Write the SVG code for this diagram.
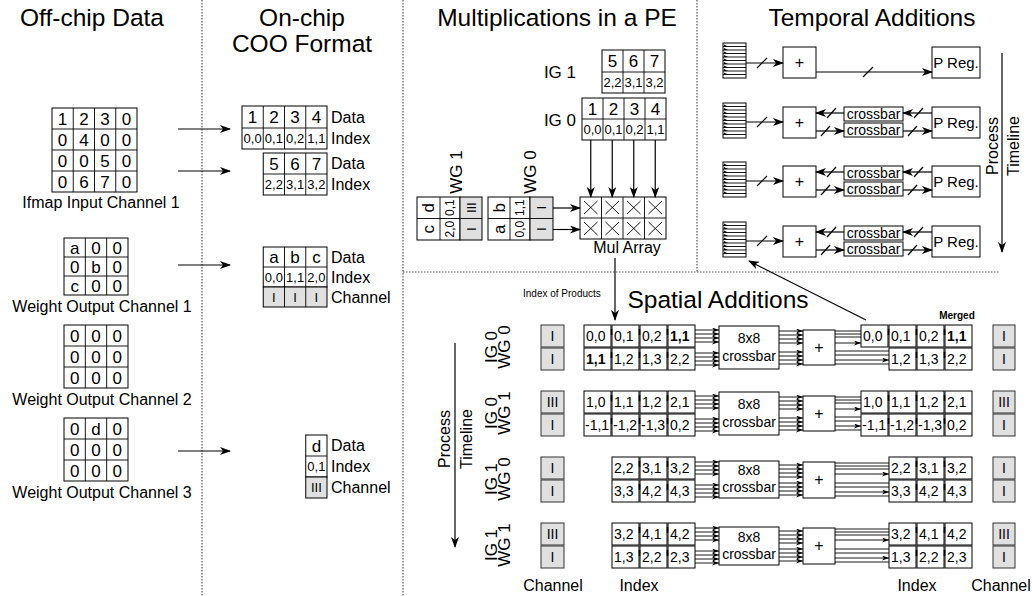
<svg xmlns="http://www.w3.org/2000/svg" width="1032" height="596" viewBox="0 0 1032 596">
<defs>
<style>
text{font-family:"Liberation Sans",Arial,sans-serif;fill:#000}
.title{font-size:24.5px;text-anchor:middle}
.lbl{font-size:16px}
.d{font-size:17px;text-anchor:middle}
.ix{font-size:13px;text-anchor:middle}
.sx{font-size:14px}
.b{font-weight:bold}
.m{text-anchor:middle}
.c{fill:#fff;stroke:#000;stroke-width:1}
.g{fill:#e0e0e0;stroke:#000;stroke-width:1}
.gs{fill:#e0e0e0;stroke:#333;stroke-width:1}
.ln{fill:none;stroke:#000;stroke-width:1.2}
.th{fill:none;stroke:#000;stroke-width:0.9}
.dot{fill:none;stroke:#555;stroke-width:1.2;stroke-dasharray:1.5 1.5}
</style>
<marker id="ah" markerWidth="11" markerHeight="8" refX="10" refY="4" orient="auto" markerUnits="userSpaceOnUse"><path d="M0,0 L11,4 L0,8 L3,4 z"/></marker>
<marker id="as" markerWidth="7" markerHeight="5" refX="7" refY="2.5" orient="auto" markerUnits="userSpaceOnUse"><path d="M0,0 L7,2.5 L0,5 L2,2.5 z"/></marker>
<g id="stack">
<rect x="0" y="0" width="23" height="35" fill="#fff" stroke="#000" stroke-width="1"/>
<path d="M0,3.5H23M0,7H23M0,10.5H23M0,14H23M0,17.5H23M0,21H23M0,24.5H23M0,28H23M0,31.5H23" stroke="#000" stroke-width="0.9"/>
<path d="M1,1.5L5,3.5L1,3.5zM1,5L5,7L1,7zM1,8.5L5,10.5L1,10.5zM1,12L5,14L1,14zM1,15.5L5,17.5L1,17.5zM1,19L5,21L1,21zM1,22.5L5,24.5L1,24.5zM1,26L5,28L1,28zM1,29.5L5,31.5L1,31.5z" fill="#000"/>
</g>
</defs>
<rect width="1032" height="596" fill="#fff"/>

<g id="dividers">
<line class="dot" x1="202" y1="0" x2="202" y2="596"/>
<line class="dot" x1="403" y1="0" x2="403" y2="596"/>
<line class="dot" x1="697" y1="0" x2="697" y2="272"/>
<line class="dot" x1="403" y1="272" x2="1000" y2="272"/>
</g>

<g id="titles">
<text class="title" x="92" y="26">Off-chip Data</text>
<text class="title" x="302" y="26">On-chip</text>
<text class="title" x="302" y="52">COO Format</text>
<text class="title" x="557" y="26">Multiplications in a PE</text>
<text class="title" x="872" y="26">Temporal Additions</text>
<text class="title" x="718" y="308">Spatial Additions</text>
</g>

<g id="ifmap">
<rect class="c" x="52" y="108" width="85" height="84"/>
<path class="th" d="M73.25,108V192M94.5,108V192M115.75,108V192M52,129H137M52,150H137M52,171H137"/>
<text class="d" x="62.6" y="124.5">1</text><text class="d" x="83.9" y="124.5">2</text><text class="d" x="105.1" y="124.5">3</text><text class="d" x="126.4" y="124.5">0</text>
<text class="d" x="62.6" y="145.5">0</text><text class="d" x="83.9" y="145.5">4</text><text class="d" x="105.1" y="145.5">0</text><text class="d" x="126.4" y="145.5">0</text>
<text class="d" x="62.6" y="166.5">0</text><text class="d" x="83.9" y="166.5">0</text><text class="d" x="105.1" y="166.5">5</text><text class="d" x="126.4" y="166.5">0</text>
<text class="d" x="62.6" y="187.5">0</text><text class="d" x="83.9" y="187.5">6</text><text class="d" x="105.1" y="187.5">7</text><text class="d" x="126.4" y="187.5">0</text>
<text class="lbl m" x="101" y="208">Ifmap Input Channel 1</text>
</g>
<g id="weight1">
<rect class="c" x="64" y="238" width="64" height="57"/>
<path class="th" d="M85.33,238V295M106.67,238V295M64,257H128M64,276H128"/>
<text class="d" x="74.7" y="253.5">a</text><text class="d" x="96" y="253.5">0</text><text class="d" x="117.3" y="253.5">0</text>
<text class="d" x="74.7" y="272.5">0</text><text class="d" x="96" y="272.5">b</text><text class="d" x="117.3" y="272.5">0</text>
<text class="d" x="74.7" y="291.5">c</text><text class="d" x="96" y="291.5">0</text><text class="d" x="117.3" y="291.5">0</text>
<text class="lbl m" x="102" y="312">Weight Output Channel 1</text>
</g>
<g id="weight2">
<rect class="c" x="64" y="325" width="64" height="63"/>
<path class="th" d="M85.33,325V388M106.67,325V388M64,346H128M64,367H128"/>
<text class="d" x="74.7" y="341.5">0</text><text class="d" x="96" y="341.5">0</text><text class="d" x="117.3" y="341.5">0</text>
<text class="d" x="74.7" y="362.5">0</text><text class="d" x="96" y="362.5">0</text><text class="d" x="117.3" y="362.5">0</text>
<text class="d" x="74.7" y="383.5">0</text><text class="d" x="96" y="383.5">0</text><text class="d" x="117.3" y="383.5">0</text>
<text class="lbl m" x="102" y="405">Weight Output Channel 2</text>
</g>
<g id="weight3">
<rect class="c" x="64" y="418" width="64" height="63"/>
<path class="th" d="M85.33,418V481M106.67,418V481M64,439H128M64,460H128"/>
<text class="d" x="74.7" y="434.5">0</text><text class="d" x="96" y="434.5">d</text><text class="d" x="117.3" y="434.5">0</text>
<text class="d" x="74.7" y="455.5">0</text><text class="d" x="96" y="455.5">0</text><text class="d" x="117.3" y="455.5">0</text>
<text class="d" x="74.7" y="476.5">0</text><text class="d" x="96" y="476.5">0</text><text class="d" x="117.3" y="476.5">0</text>
<text class="lbl m" x="102" y="498">Weight Output Channel 3</text>
</g>

<g id="coo-ifmap-a">
<rect class="c" x="242" y="106" width="85" height="43"/>
<path class="th" d="M263.25,106V149M284.5,106V149M305.75,106V149M242,128H327"/>
<text class="d" x="252.6" y="123">1</text><text class="d" x="273.9" y="123">2</text><text class="d" x="295.1" y="123">3</text><text class="d" x="316.4" y="123">4</text>
<text class="ix" x="252.6" y="143">0,0</text><text class="ix" x="273.9" y="143">0,1</text><text class="ix" x="295.1" y="143">0,2</text><text class="ix" x="316.4" y="143">1,1</text>
<text class="lbl" x="331" y="123">Data</text><text class="lbl" x="331" y="144">Index</text>
</g>
<g id="coo-ifmap-b">
<rect class="c" x="263.25" y="153" width="63.75" height="42"/>
<path class="th" d="M284.5,153V195M305.75,153V195M263.25,174H327"/>
<text class="d" x="273.9" y="169.5">5</text><text class="d" x="295.1" y="169.5">6</text><text class="d" x="316.4" y="169.5">7</text>
<text class="ix" x="273.9" y="189">2,2</text><text class="ix" x="295.1" y="189">3,1</text><text class="ix" x="316.4" y="189">3,2</text>
<text class="lbl" x="331" y="169">Data</text><text class="lbl" x="331" y="190">Index</text>
</g>
<g id="coo-weight1">
<rect class="c" x="263.25" y="247" width="63.75" height="40"/>
<rect class="g" x="263.25" y="287" width="63.75" height="20"/>
<path class="th" d="M284.5,247V307M305.75,247V307M263.25,267H327"/>
<text class="d" x="273.9" y="263">a</text><text class="d" x="295.1" y="263">b</text><text class="d" x="316.4" y="263">c</text>
<text class="ix" x="273.9" y="281.5">0,0</text><text class="ix" x="295.1" y="281.5">1,1</text><text class="ix" x="316.4" y="281.5">2,0</text>
<text class="ix" x="273.9" y="302">I</text><text class="ix" x="295.1" y="302">I</text><text class="ix" x="316.4" y="302">I</text>
<text class="lbl" x="331" y="263">Data</text><text class="lbl" x="331" y="283">Index</text><text class="lbl" x="331" y="303">Channel</text>
</g>
<g id="coo-weight3">
<rect class="c" x="305.75" y="435" width="21.25" height="42"/>
<rect class="g" x="305.75" y="477" width="21.25" height="21"/>
<line class="th" x1="305.75" y1="456" x2="327" y2="456"/>
<text class="d" x="316.4" y="451.5">d</text>
<text class="ix" x="316.4" y="471">0,1</text>
<text class="ix" x="316.4" y="492">III</text>
<text class="lbl" x="331" y="451">Data</text><text class="lbl" x="331" y="472">Index</text><text class="lbl" x="331" y="493">Channel</text>
</g>

<g id="ig1">
<text class="d" x="576" y="78" style="text-anchor:end">IG 1</text>
<rect class="c" x="602" y="50" width="63" height="43"/>
<path class="th" d="M623,50V93M644,50V93M602,72H665"/>
<text class="d" x="612.5" y="67">5</text><text class="d" x="633.5" y="67">6</text><text class="d" x="654.5" y="67">7</text>
<text class="ix" x="612.5" y="87">2,2</text><text class="ix" x="633.5" y="87">3,1</text><text class="ix" x="654.5" y="87">3,2</text>
</g>
<g id="ig0">
<text class="d" x="576" y="126" style="text-anchor:end">IG 0</text>
<rect class="c" x="582" y="98" width="84" height="42"/>
<path class="th" d="M603,98V140M624,98V140M645,98V140M582,119H666"/>
<text class="d" x="592.5" y="115">1</text><text class="d" x="613.5" y="115">2</text><text class="d" x="634.5" y="115">3</text><text class="d" x="655.5" y="115">4</text>
<text class="ix" x="592.5" y="134">0,0</text><text class="ix" x="613.5" y="134">0,1</text><text class="ix" x="634.5" y="134">0,2</text><text class="ix" x="655.5" y="134">1,1</text>
</g>
<g id="wg1">
<text class="d" transform="rotate(-90 455.5 172)" x="455.5" y="178">WG 1</text>
<rect class="c" x="417" y="197" width="43" height="43"/>
<rect class="g" x="460" y="197" width="22" height="43"/>
<path class="th" d="M440,197V240M417,218.5H482"/>
<text class="d" transform="rotate(-90 428.5 207.7)" x="428.5" y="213.7">d</text>
<text class="d" transform="rotate(-90 428.5 229.2)" x="428.5" y="235.2">c</text>
<text class="ix" style="font-size:12px" transform="rotate(-90 450 207.7)" x="450" y="212">0,1</text>
<text class="ix" style="font-size:12px" transform="rotate(-90 450 229.2)" x="450" y="233.5">2,0</text>
<text class="ix" transform="rotate(-90 471 207.7)" x="471" y="212.5">III</text>
<text class="ix" transform="rotate(-90 471 229.2)" x="471" y="234">I</text>
</g>
<g id="wg0">
<text class="d" transform="rotate(-90 529.5 172)" x="529.5" y="178">WG 0</text>
<rect class="c" x="488" y="197" width="42" height="43"/>
<rect class="g" x="530" y="197" width="23" height="43"/>
<path class="th" d="M510,197V240M488,218.5H553"/>
<text class="d" transform="rotate(-90 499 207.7)" x="499" y="213.7">b</text>
<text class="d" transform="rotate(-90 499 229.2)" x="499" y="235.2">a</text>
<text class="ix" style="font-size:12px" transform="rotate(-90 520 207.7)" x="520" y="212">1,1</text>
<text class="ix" style="font-size:12px" transform="rotate(-90 520 229.2)" x="520" y="233.5">0,0</text>
<text class="ix" transform="rotate(-90 541.5 207.7)" x="541.5" y="212.5">I</text>
<text class="ix" transform="rotate(-90 541.5 229.2)" x="541.5" y="234">I</text>
</g>
<g id="mul-array">
<rect class="c" x="580" y="197" width="86" height="42"/>
<path class="th" d="M601.5,197V239M623,197V239M644.5,197V239M580,218H666"/>
<path class="th" d="M584,201L597.5,214M597.5,201L584,214M605.5,201L619,214M619,201L605.5,214M627,201L640.5,214M640.5,201L627,214M648.5,201L662,214M662,201L648.5,214
M584,222L597.5,235M597.5,222L584,235M605.5,222L619,235M619,222L605.5,235M627,222L640.5,235M640.5,222L627,235M648.5,222L662,235M662,222L648.5,235"/>
<text class="lbl m" x="627" y="253">Mul Array</text>
</g>

<g id="temporal-row1">
<use href="#stack" x="723" y="43"/>
<rect class="c" x="783" y="47" width="33" height="31"/>
<text class="lbl m" x="799.5" y="68">+</text>
<rect class="c" x="932" y="47" width="48" height="31"/>
<text class="sx m" style="font-size:15px" x="956" y="68">P Reg.</text>
</g>
<g id="temporal-row2">
<use href="#stack" x="723" y="103"/>
<rect class="c" x="783" y="107" width="33" height="31"/>
<text class="lbl m" x="799.5" y="128">+</text>
<rect class="c" x="844" y="107" width="59" height="14"/><text class="sx m" x="873.5" y="118.5">crossbar</text>
<rect class="c" x="844" y="123" width="59" height="14"/><text class="sx m" x="873.5" y="134.5">crossbar</text>
<rect class="c" x="932" y="107" width="48" height="31"/>
<text class="sx m" style="font-size:15px" x="956" y="128">P Reg.</text>
</g>
<g id="temporal-row3">
<use href="#stack" x="723" y="162"/>
<rect class="c" x="783" y="166" width="33" height="31"/>
<text class="lbl m" x="799.5" y="187">+</text>
<rect class="c" x="844" y="166" width="59" height="14"/><text class="sx m" x="873.5" y="177.5">crossbar</text>
<rect class="c" x="844" y="182" width="59" height="14"/><text class="sx m" x="873.5" y="193.5">crossbar</text>
<rect class="c" x="932" y="166" width="48" height="31"/>
<text class="sx m" style="font-size:15px" x="956" y="187">P Reg.</text>
</g>
<g id="temporal-row4">
<use href="#stack" x="723" y="222"/>
<rect class="c" x="783" y="226" width="33" height="31"/>
<text class="lbl m" x="799.5" y="247">+</text>
<rect class="c" x="844" y="226" width="59" height="14"/><text class="sx m" x="873.5" y="237.5">crossbar</text>
<rect class="c" x="844" y="242" width="59" height="14"/><text class="sx m" x="873.5" y="253.5">crossbar</text>
<rect class="c" x="932" y="226" width="48" height="31"/>
<text class="sx m" style="font-size:15px" x="956" y="247">P Reg.</text>
</g>
<g id="temporal-timeline">
<text class="m" style="font-size:16px" transform="rotate(-90 992.5 146)" x="992.5" y="151.5">Process</text>
<text class="m" style="font-size:16px" transform="rotate(-90 1013 146)" x="1013" y="151.5">Timeline</text>
</g>

<g id="spatial-labels">
<text style="font-size:10px" x="523" y="297">Index of Products</text>
<text class="b" style="font-size:10px" text-anchor="middle" x="957" y="319">Merged</text>
<text class="m" style="font-size:16px" transform="rotate(-90 444 439)" x="444" y="444.5">Process</text>
<text class="m" style="font-size:16px" transform="rotate(-90 466 439)" x="466" y="444.5">Timeline</text>
<text class="lbl m" x="553" y="591">Channel</text>
<text class="lbl m" x="639" y="591">Index</text>
<text class="lbl m" x="917" y="591">Index</text>
<text class="lbl m" x="1001" y="591">Channel</text>
</g>

<g id="spatial-g1">
<text class="d" transform="rotate(-90 491 347)" x="491" y="353">IG 0</text>
<text class="d" transform="rotate(-90 503.5 347)" x="503.5" y="353">WG 0</text>
<rect class="gs" x="541" y="325" width="23" height="22"/><text class="sx m" x="552.5" y="341">I</text>
<rect class="gs" x="541" y="348" width="23" height="22"/><text class="sx m" x="552.5" y="364">I</text>
<rect class="c" x="584" y="325" width="27" height="22"/><text class="sx" x="586" y="341">0,0</text>
<rect class="c" x="612" y="325" width="27" height="22"/><text class="sx" x="614" y="341">0,1</text>
<rect class="c" x="640" y="325" width="27" height="22"/><text class="sx" x="642" y="341">0,2</text>
<rect class="c" x="668" y="325" width="27" height="22"/><text class="sx b" x="670" y="341">1,1</text>
<rect class="c" x="584" y="348" width="27" height="22"/><text class="sx b" x="586" y="364">1,1</text>
<rect class="c" x="612" y="348" width="27" height="22"/><text class="sx" x="614" y="364">1,2</text>
<rect class="c" x="640" y="348" width="27" height="22"/><text class="sx" x="642" y="364">1,3</text>
<rect class="c" x="668" y="348" width="27" height="22"/><text class="sx" x="670" y="364">2,2</text>
<rect class="c" x="719" y="326" width="60" height="43"/><text class="sx m" x="749" y="343">8x8</text><text class="sx m" x="749" y="361">crossbar</text>
<rect class="c" x="803" y="330" width="32" height="35"/><text class="lbl m" x="819" y="353">+</text>
<rect class="c" x="861" y="325" width="27" height="22"/><text class="sx" x="863" y="341">0,0</text>
<rect class="c" x="889" y="325" width="27" height="22"/><text class="sx" x="891" y="341">0,1</text>
<rect class="c" x="917" y="325" width="27" height="22"/><text class="sx" x="919" y="341">0,2</text>
<rect class="c" x="945" y="325" width="27" height="22"/><text class="sx b" x="947" y="341">1,1</text>
<rect class="c" x="889" y="348" width="27" height="22"/><text class="sx" x="891" y="364">1,2</text>
<rect class="c" x="917" y="348" width="27" height="22"/><text class="sx" x="919" y="364">1,3</text>
<rect class="c" x="945" y="348" width="27" height="22"/><text class="sx" x="947" y="364">2,2</text>
<rect class="gs" x="993" y="325" width="22" height="22"/><text class="sx m" x="1004" y="341">I</text>
<rect class="gs" x="993" y="348" width="22" height="22"/><text class="sx m" x="1004" y="364">I</text>
</g>

<g id="spatial-g2">
<text class="d" transform="rotate(-90 491 413)" x="491" y="419">IG 0</text>
<text class="d" transform="rotate(-90 503.5 413)" x="503.5" y="419">WG 1</text>
<rect class="gs" x="541" y="391" width="23" height="22"/><text class="sx m" x="552.5" y="407">III</text>
<rect class="gs" x="541" y="414" width="23" height="22"/><text class="sx m" x="552.5" y="430">I</text>
<rect class="c" x="584" y="391" width="27" height="22"/><text class="sx" x="586" y="407">1,0</text>
<rect class="c" x="612" y="391" width="27" height="22"/><text class="sx" x="614" y="407">1,1</text>
<rect class="c" x="640" y="391" width="27" height="22"/><text class="sx" x="642" y="407">1,2</text>
<rect class="c" x="668" y="391" width="27" height="22"/><text class="sx" x="670" y="407">2,1</text>
<rect class="c" x="584" y="414" width="27" height="22"/><text class="sx" x="585" y="430">-1,1</text>
<rect class="c" x="612" y="414" width="27" height="22"/><text class="sx" x="613" y="430">-1,2</text>
<rect class="c" x="640" y="414" width="27" height="22"/><text class="sx" x="641" y="430">-1,3</text>
<rect class="c" x="668" y="414" width="27" height="22"/><text class="sx" x="670" y="430">0,2</text>
<rect class="c" x="719" y="392" width="60" height="43"/><text class="sx m" x="749" y="409">8x8</text><text class="sx m" x="749" y="427">crossbar</text>
<rect class="c" x="803" y="396" width="32" height="35"/><text class="lbl m" x="819" y="419">+</text>
<rect class="c" x="861" y="391" width="27" height="22"/><text class="sx" x="863" y="407">1,0</text>
<rect class="c" x="889" y="391" width="27" height="22"/><text class="sx" x="891" y="407">1,1</text>
<rect class="c" x="917" y="391" width="27" height="22"/><text class="sx" x="919" y="407">1,2</text>
<rect class="c" x="945" y="391" width="27" height="22"/><text class="sx" x="947" y="407">2,1</text>
<rect class="c" x="861" y="414" width="27" height="22"/><text class="sx" x="862" y="430">-1,1</text>
<rect class="c" x="889" y="414" width="27" height="22"/><text class="sx" x="890" y="430">-1,2</text>
<rect class="c" x="917" y="414" width="27" height="22"/><text class="sx" x="918" y="430">-1,3</text>
<rect class="c" x="945" y="414" width="27" height="22"/><text class="sx" x="947" y="430">0,2</text>
<rect class="gs" x="993" y="391" width="22" height="22"/><text class="sx m" x="1004" y="407">III</text>
<rect class="gs" x="993" y="414" width="22" height="22"/><text class="sx m" x="1004" y="430">I</text>
</g>

<g id="spatial-g3">
<text class="d" transform="rotate(-90 491 479)" x="491" y="485">IG 1</text>
<text class="d" transform="rotate(-90 503.5 479)" x="503.5" y="485">WG 0</text>
<rect class="gs" x="541" y="457" width="23" height="22"/><text class="sx m" x="552.5" y="473">I</text>
<rect class="gs" x="541" y="480" width="23" height="22"/><text class="sx m" x="552.5" y="496">I</text>
<rect class="c" x="612" y="457" width="27" height="22"/><text class="sx" x="614" y="473">2,2</text>
<rect class="c" x="640" y="457" width="27" height="22"/><text class="sx" x="642" y="473">3,1</text>
<rect class="c" x="668" y="457" width="27" height="22"/><text class="sx" x="670" y="473">3,2</text>
<rect class="c" x="612" y="480" width="27" height="22"/><text class="sx" x="614" y="496">3,3</text>
<rect class="c" x="640" y="480" width="27" height="22"/><text class="sx" x="642" y="496">4,2</text>
<rect class="c" x="668" y="480" width="27" height="22"/><text class="sx" x="670" y="496">4,3</text>
<rect class="c" x="719" y="461" width="60" height="37"/><text class="sx m" x="749" y="475">8x8</text><text class="sx m" x="749" y="492">crossbar</text>
<rect class="c" x="803" y="462" width="32" height="36"/><text class="lbl m" x="819" y="485">+</text>
<rect class="c" x="889" y="457" width="27" height="22"/><text class="sx" x="891" y="473">2,2</text>
<rect class="c" x="917" y="457" width="27" height="22"/><text class="sx" x="919" y="473">3,1</text>
<rect class="c" x="945" y="457" width="27" height="22"/><text class="sx" x="947" y="473">3,2</text>
<rect class="c" x="889" y="480" width="27" height="22"/><text class="sx" x="891" y="496">3,3</text>
<rect class="c" x="917" y="480" width="27" height="22"/><text class="sx" x="919" y="496">4,2</text>
<rect class="c" x="945" y="480" width="27" height="22"/><text class="sx" x="947" y="496">4,3</text>
<rect class="gs" x="993" y="457" width="22" height="22"/><text class="sx m" x="1004" y="473">I</text>
<rect class="gs" x="993" y="480" width="22" height="22"/><text class="sx m" x="1004" y="496">I</text>
</g>

<g id="spatial-g4">
<text class="d" transform="rotate(-90 491 545)" x="491" y="551">IG 1</text>
<text class="d" transform="rotate(-90 503.5 545)" x="503.5" y="551">WG 1</text>
<rect class="gs" x="541" y="523" width="23" height="22"/><text class="sx m" x="552.5" y="539">III</text>
<rect class="gs" x="541" y="546" width="23" height="22"/><text class="sx m" x="552.5" y="562">I</text>
<rect class="c" x="612" y="523" width="27" height="22"/><text class="sx" x="614" y="539">3,2</text>
<rect class="c" x="640" y="523" width="27" height="22"/><text class="sx" x="642" y="539">4,1</text>
<rect class="c" x="668" y="523" width="27" height="22"/><text class="sx" x="670" y="539">4,2</text>
<rect class="c" x="612" y="546" width="27" height="22"/><text class="sx" x="614" y="562">1,3</text>
<rect class="c" x="640" y="546" width="27" height="22"/><text class="sx" x="642" y="562">2,2</text>
<rect class="c" x="668" y="546" width="27" height="22"/><text class="sx" x="670" y="562">2,3</text>
<rect class="c" x="719" y="527" width="60" height="38"/><text class="sx m" x="749" y="542">8x8</text><text class="sx m" x="749" y="559">crossbar</text>
<rect class="c" x="803" y="528" width="32" height="36"/><text class="lbl m" x="819" y="551">+</text>
<rect class="c" x="889" y="523" width="27" height="22"/><text class="sx" x="891" y="539">3,2</text>
<rect class="c" x="917" y="523" width="27" height="22"/><text class="sx" x="919" y="539">4,1</text>
<rect class="c" x="945" y="523" width="27" height="22"/><text class="sx" x="947" y="539">4,2</text>
<rect class="c" x="889" y="546" width="27" height="22"/><text class="sx" x="891" y="562">1,3</text>
<rect class="c" x="917" y="546" width="27" height="22"/><text class="sx" x="919" y="562">2,2</text>
<rect class="c" x="945" y="546" width="27" height="22"/><text class="sx" x="947" y="562">2,3</text>
<rect class="gs" x="993" y="523" width="22" height="22"/><text class="sx m" x="1004" y="539">III</text>
<rect class="gs" x="993" y="546" width="22" height="22"/><text class="sx m" x="1004" y="562">I</text>
</g>

<g id="connectors">
<line class="ln" x1="178" y1="129" x2="230" y2="129" marker-end="url(#ah)"/>
<line class="ln" x1="178" y1="171" x2="230" y2="171" marker-end="url(#ah)"/>
<line class="ln" x1="178" y1="265" x2="230" y2="265" marker-end="url(#ah)"/>
<line class="ln" x1="178" y1="451" x2="230" y2="451" marker-end="url(#ah)"/>
<line class="ln" x1="590.75" y1="140" x2="590.75" y2="197" marker-end="url(#ah)"/>
<line class="ln" x1="612.25" y1="140" x2="612.25" y2="197" marker-end="url(#ah)"/>
<line class="ln" x1="633.75" y1="140" x2="633.75" y2="197" marker-end="url(#ah)"/>
<line class="ln" x1="655.25" y1="140" x2="655.25" y2="197" marker-end="url(#ah)"/>
<line class="ln" x1="553" y1="208" x2="580" y2="208" marker-end="url(#ah)"/>
<line class="ln" x1="553" y1="229.5" x2="580" y2="229.5" marker-end="url(#ah)"/>
<line class="ln" x1="615" y1="258" x2="615" y2="320" marker-end="url(#ah)"/>
<line class="ln" x1="866" y1="320" x2="749" y2="261" marker-end="url(#ah)"/>
<line class="ln" x1="1002" y1="53" x2="1002" y2="252" marker-end="url(#ah)"/>
<line class="ln" x1="455" y1="343" x2="455" y2="547" marker-end="url(#ah)"/>

<line class="ln" x1="746" y1="63" x2="783" y2="63" marker-end="url(#ah)"/>
<line class="ln" x1="757" y1="68" x2="767" y2="58"/>
<line class="ln" x1="816" y1="72" x2="932" y2="72" marker-end="url(#ah)"/>
<line class="ln" x1="863" y1="77" x2="873" y2="67"/>
<line class="ln" x1="746" y1="122" x2="783" y2="122" marker-end="url(#ah)"/><line class="ln" x1="757" y1="127" x2="767" y2="117"/>
<line class="ln" x1="932" y1="113" x2="903" y2="113" marker-end="url(#ah)"/><line class="ln" x1="914" y1="118" x2="923" y2="108"/>
<line class="ln" x1="844" y1="113" x2="816" y2="113" marker-end="url(#ah)"/><line class="ln" x1="827" y1="118" x2="836" y2="108"/>
<line class="ln" x1="816" y1="131" x2="844" y2="131" marker-end="url(#ah)"/><line class="ln" x1="821" y1="136" x2="830" y2="126"/>
<line class="ln" x1="903" y1="131" x2="932" y2="131" marker-end="url(#ah)"/><line class="ln" x1="908" y1="136" x2="917" y2="126"/>
<line class="ln" x1="746" y1="181" x2="783" y2="181" marker-end="url(#ah)"/><line class="ln" x1="757" y1="186" x2="767" y2="176"/>
<line class="ln" x1="932" y1="172" x2="903" y2="172" marker-end="url(#ah)"/><line class="ln" x1="914" y1="177" x2="923" y2="167"/>
<line class="ln" x1="844" y1="172" x2="816" y2="172" marker-end="url(#ah)"/><line class="ln" x1="827" y1="177" x2="836" y2="167"/>
<line class="ln" x1="816" y1="190" x2="844" y2="190" marker-end="url(#ah)"/><line class="ln" x1="821" y1="195" x2="830" y2="185"/>
<line class="ln" x1="903" y1="190" x2="932" y2="190" marker-end="url(#ah)"/><line class="ln" x1="908" y1="195" x2="917" y2="185"/>
<line class="ln" x1="746" y1="241" x2="783" y2="241" marker-end="url(#ah)"/><line class="ln" x1="757" y1="246" x2="767" y2="236"/>
<line class="ln" x1="932" y1="232" x2="903" y2="232" marker-end="url(#ah)"/><line class="ln" x1="914" y1="237" x2="923" y2="227"/>
<line class="ln" x1="844" y1="232" x2="816" y2="232" marker-end="url(#ah)"/><line class="ln" x1="827" y1="237" x2="836" y2="227"/>
<line class="ln" x1="816" y1="250" x2="844" y2="250" marker-end="url(#ah)"/><line class="ln" x1="821" y1="255" x2="830" y2="245"/>
<line class="ln" x1="903" y1="250" x2="932" y2="250" marker-end="url(#ah)"/><line class="ln" x1="908" y1="255" x2="917" y2="245"/>

<path d="M611.5,329v6M639.5,329v6M667.5,329v6M888.5,329v6M916.5,329v6M944.5,329v6
M611.5,352v6M639.5,352v6M667.5,352v6M916.5,352v6M944.5,352v6
M611.5,395v6M639.5,395v6M667.5,395v6M888.5,395v6M916.5,395v6M944.5,395v6
M611.5,418v6M639.5,418v6M667.5,418v6M888.5,418v6M916.5,418v6M944.5,418v6
M639.5,461v6M667.5,461v6M916.5,461v6M944.5,461v6M639.5,484v6M667.5,484v6M916.5,484v6M944.5,484v6
M639.5,527v6M667.5,527v6M916.5,527v6M944.5,527v6M639.5,550v6M667.5,550v6M916.5,550v6M944.5,550v6" stroke="#000" stroke-width="1.6"/>

<g stroke="#000" stroke-width="0.9">
<line x1="695" y1="330" x2="719" y2="330" marker-end="url(#as)"/><line x1="695" y1="334" x2="719" y2="334" marker-end="url(#as)"/><line x1="695" y1="338" x2="719" y2="338" marker-end="url(#as)"/><line x1="695" y1="342" x2="719" y2="342" marker-end="url(#as)"/>
<line x1="695" y1="353" x2="719" y2="353" marker-end="url(#as)"/><line x1="695" y1="357" x2="719" y2="357" marker-end="url(#as)"/><line x1="695" y1="361" x2="719" y2="361" marker-end="url(#as)"/><line x1="695" y1="365" x2="719" y2="365" marker-end="url(#as)"/>
<line x1="779" y1="331" x2="803" y2="331" marker-end="url(#as)"/><line x1="779" y1="335" x2="803" y2="335" marker-end="url(#as)"/><line x1="779" y1="339" x2="803" y2="339" marker-end="url(#as)"/><line x1="779" y1="343" x2="803" y2="343" marker-end="url(#as)"/>
<line x1="779" y1="352" x2="803" y2="352" marker-end="url(#as)"/><line x1="779" y1="356" x2="803" y2="356" marker-end="url(#as)"/><line x1="779" y1="360" x2="803" y2="360" marker-end="url(#as)"/><line x1="779" y1="364" x2="803" y2="364" marker-end="url(#as)"/>
<line x1="835" y1="331" x2="861" y2="331"/><line x1="835" y1="334" x2="861" y2="334"/><line x1="835" y1="337" x2="861" y2="337"/><line x1="835" y1="343" x2="861" y2="343" marker-end="url(#as)"/>
<line x1="835" y1="351" x2="889" y2="351"/><line x1="835" y1="355" x2="889" y2="355"/><line x1="835" y1="360" x2="889" y2="360" marker-end="url(#as)"/><line x1="835" y1="364" x2="889" y2="364"/>

<line x1="695" y1="396" x2="719" y2="396" marker-end="url(#as)"/><line x1="695" y1="400" x2="719" y2="400" marker-end="url(#as)"/><line x1="695" y1="404" x2="719" y2="404" marker-end="url(#as)"/><line x1="695" y1="408" x2="719" y2="408" marker-end="url(#as)"/>
<line x1="695" y1="419" x2="719" y2="419" marker-end="url(#as)"/><line x1="695" y1="423" x2="719" y2="423" marker-end="url(#as)"/><line x1="695" y1="427" x2="719" y2="427" marker-end="url(#as)"/><line x1="695" y1="431" x2="719" y2="431" marker-end="url(#as)"/>
<line x1="779" y1="397" x2="803" y2="397" marker-end="url(#as)"/><line x1="779" y1="401" x2="803" y2="401" marker-end="url(#as)"/><line x1="779" y1="405" x2="803" y2="405" marker-end="url(#as)"/><line x1="779" y1="409" x2="803" y2="409" marker-end="url(#as)"/>
<line x1="779" y1="418" x2="803" y2="418" marker-end="url(#as)"/><line x1="779" y1="422" x2="803" y2="422" marker-end="url(#as)"/><line x1="779" y1="426" x2="803" y2="426" marker-end="url(#as)"/><line x1="779" y1="430" x2="803" y2="430" marker-end="url(#as)"/>
<line x1="835" y1="397" x2="861" y2="397"/><line x1="835" y1="400" x2="861" y2="400"/><line x1="835" y1="403" x2="861" y2="403"/><line x1="835" y1="409" x2="861" y2="409" marker-end="url(#as)"/>
<line x1="835" y1="417" x2="861" y2="417"/><line x1="835" y1="421" x2="861" y2="421"/><line x1="835" y1="426" x2="861" y2="426" marker-end="url(#as)"/><line x1="835" y1="430" x2="861" y2="430"/>

<line x1="695" y1="462" x2="719" y2="462" marker-end="url(#as)"/><line x1="695" y1="466" x2="719" y2="466" marker-end="url(#as)"/><line x1="695" y1="470" x2="719" y2="470" marker-end="url(#as)"/><line x1="695" y1="474" x2="719" y2="474" marker-end="url(#as)"/>
<line x1="695" y1="485" x2="719" y2="485" marker-end="url(#as)"/><line x1="695" y1="489" x2="719" y2="489" marker-end="url(#as)"/><line x1="695" y1="493" x2="719" y2="493" marker-end="url(#as)"/><line x1="695" y1="497" x2="719" y2="497" marker-end="url(#as)"/>
<line x1="779" y1="465" x2="803" y2="465" marker-end="url(#as)"/><line x1="779" y1="469" x2="803" y2="469" marker-end="url(#as)"/><line x1="779" y1="473" x2="803" y2="473" marker-end="url(#as)"/><line x1="779" y1="477" x2="803" y2="477" marker-end="url(#as)"/>
<line x1="779" y1="483" x2="803" y2="483" marker-end="url(#as)"/><line x1="779" y1="487" x2="803" y2="487" marker-end="url(#as)"/><line x1="779" y1="491" x2="803" y2="491" marker-end="url(#as)"/><line x1="779" y1="495" x2="803" y2="495" marker-end="url(#as)"/>
<line x1="835" y1="463" x2="889" y2="463"/><line x1="835" y1="466" x2="889" y2="466"/><line x1="835" y1="469" x2="889" y2="469"/><line x1="835" y1="474" x2="889" y2="474" marker-end="url(#as)"/>
<line x1="835" y1="483" x2="889" y2="483"/><line x1="835" y1="487" x2="889" y2="487"/><line x1="835" y1="492" x2="889" y2="492" marker-end="url(#as)"/><line x1="835" y1="496" x2="889" y2="496"/>

<line x1="695" y1="528" x2="719" y2="528" marker-end="url(#as)"/><line x1="695" y1="532" x2="719" y2="532" marker-end="url(#as)"/><line x1="695" y1="536" x2="719" y2="536" marker-end="url(#as)"/><line x1="695" y1="540" x2="719" y2="540" marker-end="url(#as)"/>
<line x1="695" y1="551" x2="719" y2="551" marker-end="url(#as)"/><line x1="695" y1="555" x2="719" y2="555" marker-end="url(#as)"/><line x1="695" y1="559" x2="719" y2="559" marker-end="url(#as)"/><line x1="695" y1="563" x2="719" y2="563" marker-end="url(#as)"/>
<line x1="779" y1="531" x2="803" y2="531" marker-end="url(#as)"/><line x1="779" y1="535" x2="803" y2="535" marker-end="url(#as)"/><line x1="779" y1="539" x2="803" y2="539" marker-end="url(#as)"/><line x1="779" y1="543" x2="803" y2="543" marker-end="url(#as)"/>
<line x1="779" y1="549" x2="803" y2="549" marker-end="url(#as)"/><line x1="779" y1="553" x2="803" y2="553" marker-end="url(#as)"/><line x1="779" y1="557" x2="803" y2="557" marker-end="url(#as)"/><line x1="779" y1="561" x2="803" y2="561" marker-end="url(#as)"/>
<line x1="835" y1="529" x2="889" y2="529"/><line x1="835" y1="532" x2="889" y2="532"/><line x1="835" y1="535" x2="889" y2="535"/><line x1="835" y1="540" x2="889" y2="540" marker-end="url(#as)"/>
<line x1="835" y1="549" x2="889" y2="549"/><line x1="835" y1="553" x2="889" y2="553"/><line x1="835" y1="558" x2="889" y2="558" marker-end="url(#as)"/><line x1="835" y1="562" x2="889" y2="562"/>
</g>
</g>
</svg>
